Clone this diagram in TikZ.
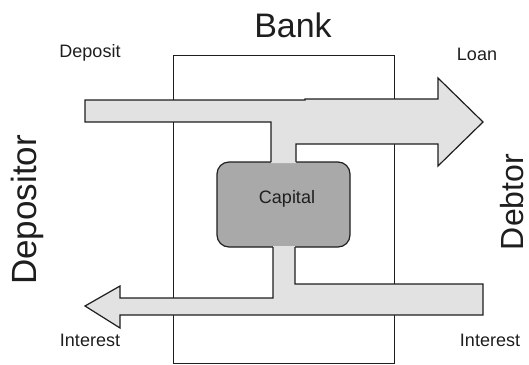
\documentclass[tikz,border=0pt]{standalone}
\usepackage{fontspec}
\setmainfont{Liberation Sans}
\definecolor{flow}{HTML}{E2E2E2}
\definecolor{cap}{HTML}{A9A9A9}
\definecolor{ink}{HTML}{1E1E1E}
\begin{document}
\begin{tikzpicture}[x=1pt,y=-1pt,
  outline/.style={draw=ink,line width=1.2pt,line join=miter},
  lbl/.style={text=ink,inner sep=0pt,font=\fontsize{18}{18}\selectfont},
  big/.style={text=ink,inner sep=0pt,font=\fontsize{34}{34}\selectfont}]
\useasboundingbox (0,0) rectangle (529,364);
% bank
\draw[outline,line width=1pt] (173,55) rectangle (394,363);
% capital
\node[draw=ink,line width=1.2pt,fill=cap,rounded corners=12pt,minimum width=133pt,minimum height=85pt,inner sep=0pt] (capital) at (283.5,204.5) {};
\node[lbl] (captext) at (287,199) {Capital};
% top flow: deposit -> loan
\fill[flow] (85,100) -- (305,100) -- (305,99) -- (438,99) -- (438,78) -- (483,122) -- (438,166) -- (438,144) -- (296,144) -- (296,163) -- (271,163) -- (271,122) -- (85,122) -- cycle;
\draw[outline] (271,162) -- (271,122) -- (85,122) -- (85,100) -- (305,100) -- (305,99) -- (438,99) -- (438,78) -- (483,122) -- (438,166) -- (438,144) -- (296,144) -- (296,162);
% bottom flow: interest
\fill[flow] (295,246) -- (295,284) -- (483,284) -- (483,315) -- (120,315) -- (120,328) -- (85,306) -- (120,286) -- (120,298) -- (273,298) -- (273,246) -- cycle;
\draw[outline] (273,247) -- (273,298) -- (120,298) -- (120,286) -- (85,306) -- (120,328) -- (120,315) -- (483,315) -- (483,284) -- (295,284) -- (295,247);
% labels
\node[big] (bank) at (293,25) {Bank};
\node[lbl] (deposit) at (90,53) {Deposit};
\node[lbl] (loan) at (477,54) {Loan};
\node[lbl] (intl) at (90,340) {Interest};
\node[lbl] (intr) at (490,340) {Interest};
\node[big,rotate=90,font=\fontsize{35}{35}\selectfont] (depositor) at (27,210) {Depositor};
\node[big,rotate=90,font=\fontsize{32}{32}\selectfont] (debtor) at (512,202) {Debtor};
\end{tikzpicture}
\end{document}
